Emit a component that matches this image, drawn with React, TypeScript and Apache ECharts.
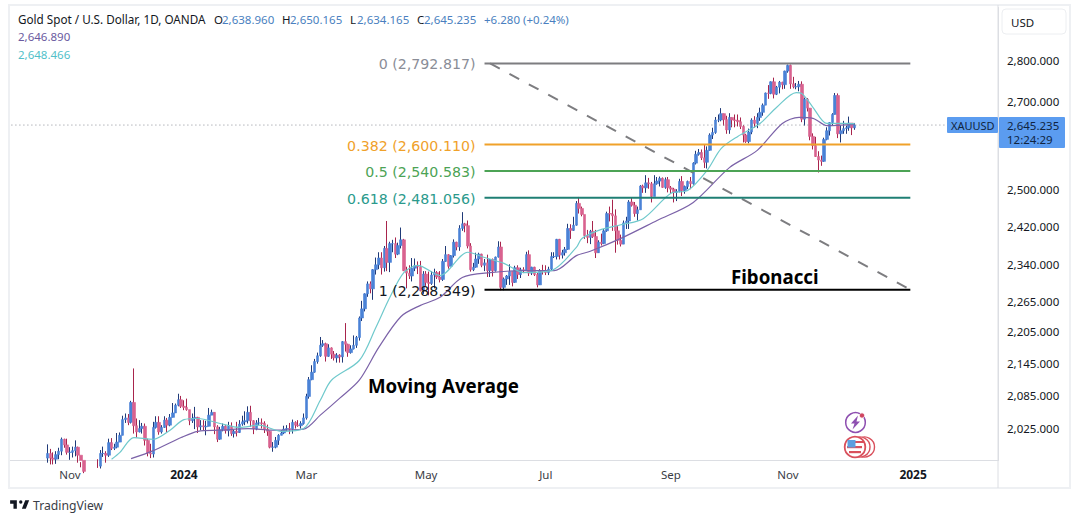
import React, { useEffect, useRef } from "react";
import * as echarts from "echarts";

const firstBarIndex = 13;
const categoryCount = 355;

const opens = [
  1973,1981,1973,1971,1979,1985,2006,1996,1983,1983,
  1986,1992,1978,1969,1950,1958,1939,1946,1963,1959,
  1981,1981,1978,2000,1990,1992,2001,2013,2041,2044,
  2036,2072,2030,2019,2025,2029,2004,1982,1980,2027,
  2036,2019,2027,2040,2031,2045,2053,2067,2077,2065,
  2063,2059,2039,2043,2045,2028,2030,2028,2029,2049,
  2054,2028,2006,2023,2029,2021,2029,2016,2020,2018,
  2033,2037,2039,2054,2039,2024,2035,2035,2034,2024,
  2020,1992,1992,2004,2013,2017,2024,2025,2024,2036,
  2031,2030,2034,2044,2083,2114,2128,2148,2159,2179,
  2182,2158,2174,2162,2155,2160,2157,2186,2181,2165,
  2172,2179,2194,2232,2250,2280,2300,2290,2329,2339,
  2353,2333,2373,2344,2383,2383,2361,2379,2391,2327,
  2322,2316,2332,2337,2335,2286,2320,2303,2301,2318,2323,
  2314,2309,2346,2360,2336,2358,2386,2376,2415,2425,
  2421,2378,2329,2334,2351,2361,2338,2343,2327,2350,
  2327,2355,2376,2293,2310,2316,2325,2303,2333,2319,
  2329,2328,2360,2322,2334,2319,2298,2327,2326,2323,
  2330,2356,2356,2392,2359,2364,2371,2415,2411,2422,
  2469,2458,2445,2400,2396,2409,2398,2364,2386,2383,
  2410,2447,2446,2442,2410,2390,2382,2427,2431,2472,
  2465,2447,2455,2507,2503,2514,2512,2484,2512,2518,
  2524,2504,2521,2503,2500,2493,2495,2517,2497,2506,
  2517,2512,2558,2578,2582,2570,2560,2587,2622,2628,
  2657,2657,2672,2658,2634,2663,2657,2656,2653,2642,
  2622,2607,2629,2657,2649,2663,2675,2692,2721,2720,
  2748,2718,2735,2747,2741,2774,2788,2743,2736,2736,
  2742,2659,2706,2685,2619,2598,2573,2565,2562,2612,
  2632,2651,2670,2715,2625,2632,2637,2639,2650,2638.96,
];
const closes = [
  1981,1973,1971,1979,1985,2006,1996,1983,1983,1986,
  1992,1978,1969,1950,1958,1939,1946,1963,1959,1981,
  1981,1978,2000,1990,1992,2001,2013,2041,2044,2036,
  2072,2030,2019,2025,2029,2004,1982,1980,2027,2036,
  2019,2027,2040,2031,2045,2053,2067,2077,2065,2063,
  2059,2039,2043,2045,2028,2030,2028,2029,2049,2054,
  2028,2006,2023,2029,2021,2029,2016,2020,2018,2033,
  2037,2039,2054,2039,2024,2035,2035,2034,2024,2020,
  1992,1992,2004,2013,2017,2024,2025,2024,2036,2031,
  2030,2034,2044,2083,2114,2128,2148,2159,2179,2182,
  2158,2174,2162,2155,2160,2157,2186,2181,2165,2172,
  2179,2194,2232,2250,2280,2300,2290,2329,2339,2353,
  2333,2373,2344,2383,2383,2361,2379,2391,2327,2322,
  2316,2332,2337,2335,2286,2320,2303,2301,2318,2323,2314,
  2309,2346,2360,2336,2358,2386,2376,2415,2425,2421,
  2378,2329,2334,2351,2361,2338,2343,2327,2350,2327,
  2355,2376,2293,2310,2316,2325,2303,2333,2319,2329,
  2328,2360,2322,2334,2319,2298,2327,2326,2323,2330,
  2356,2356,2392,2359,2364,2371,2415,2411,2422,2469,
  2458,2445,2400,2396,2409,2398,2364,2386,2383,2410,
  2447,2446,2442,2410,2390,2382,2427,2431,2472,2465,
  2447,2455,2507,2503,2514,2512,2484,2512,2518,2524,
  2504,2521,2503,2500,2493,2495,2517,2497,2506,2517,
  2512,2558,2578,2582,2570,2560,2587,2622,2628,2657,
  2657,2672,2658,2634,2663,2657,2656,2653,2642,2622,
  2607,2629,2657,2649,2663,2675,2692,2721,2720,2748,
  2718,2735,2747,2741,2774,2788,2743,2736,2736,2742,
  2659,2706,2685,2619,2598,2573,2565,2562,2612,2632,
  2651,2670,2715,2625,2632,2637,2639,2650,2639,2645.235,
];
const lows = [
  1965,1962,1962,1963,1971,1978,1991,1979,1970,1974,
  1976,1965,1957,1947,1945,1933,1931,1931,1956,1955,
  1975,1965,1975,1987,1987,1990,2001,2013,2035,2031,
  2034,2016,2009,2018,2016,1995,1976,1973,1974,2025,
  2014,2016,2026,2017,2029,2045,2053,2065,2062,2058,
  2057,2031,2035,2024,2017,2022,2022,2013,2029,2049,
  2015,2001,2005,2020,2016,2011,2012,2009,2011,2017,
  2030,2031,2034,2028,2015,2022,2031,2025,2017,2012,
  1990,1984,1990,1996,2013,2015,2020,2015,2016,2025,
  2028,2025,2032,2041,2079,2113,2127,2144,2157,2176,
  2148,2157,2153,2150,2146,2146,2146,2167,2157,2163,
  2171,2174,2188,2226,2245,2274,2281,2268,2319,2330,
  2319,2325,2326,2324,2365,2353,2359,2373,2326,2291,
  2310,2305,2326,2320,2285,2280,2296,2277,2298,2291,2310,
  2303,2306,2345,2331,2336,2354,2369,2368,2410,2407,
  2373,2325,2326,2333,2341,2334,2326,2314,2314,2315,
  2325,2354,2287,2287,2298,2298,2295,2302,2310,2312,
  2322,2326,2316,2318,2316,2293,2298,2319,2318,2318,
  2327,2353,2350,2350,2352,2358,2370,2393,2410,2421,
  2447,2441,2393,2384,2382,2395,2353,2364,2379,2382,
  2408,2430,2410,2364,2381,2377,2382,2414,2414,2462,
  2440,2432,2456,2492,2492,2501,2471,2485,2510,2506,
  2503,2501,2493,2490,2471,2474,2493,2485,2490,2500,
  2500,2510,2555,2575,2565,2547,2546,2586,2613,2625,
  2652,2654,2644,2625,2625,2640,2640,2642,2636,2605,
  2604,2603,2624,2639,2638,2655,2667,2692,2707,2718,
  2708,2716,2720,2730,2731,2770,2731,2732,2730,2725,
  2652,2644,2677,2610,2589,2572,2537,2552,2561,2610,
  2621,2645,2670,2615,2605,2625,2625,2632,2622,2634.165,
];
const highs = [
  1997,1989,1983,1985,1991,2009,2007,2007,1992,1993,
  2004,1993,1966,1964,1965,1960,1948,1966,1971,1987,
  1993,1985,2007,2008,1998,2017,2018,2048,2052,2051,
  2075,2135,2043,2040,2035,2034,2007,1998,2037,2047,
  2047,2031,2047,2044,2051,2071,2070,2088,2084,2076,
  2079,2058,2052,2064,2046,2040,2040,2039,2062,2059,
  2054,2031,2028,2034,2031,2037,2036,2023,2037,2040,
  2048,2056,2065,2066,2040,2040,2044,2043,2038,2032,
  2021,2001,2010,2015,2022,2030,2031,2035,2041,2038,
  2040,2038,2052,2088,2119,2141,2153,2165,2195,2189,
  2184,2181,2175,2168,2164,2162,2187,2222,2182,2179,
  2198,2197,2235,2266,2281,2305,2305,2330,2354,2365,
  2365,2378,2431,2387,2391,2396,2385,2417,2393,2335,
  2338,2353,2352,2346,2347,2326,2326,2325,2326,2331,2326,
  2326,2351,2378,2361,2359,2392,2387,2422,2450,2427,
  2432,2384,2343,2364,2364,2362,2351,2360,2351,2352,
  2356,2388,2387,2313,2318,2340,2325,2337,2338,2333,
  2334,2366,2369,2335,2335,2322,2330,2339,2338,2335,
  2365,2365,2393,2393,2370,2376,2425,2424,2440,2474,
  2483,2462,2427,2412,2412,2431,2412,2390,2404,2414,
  2451,2462,2477,2456,2420,2402,2432,2440,2476,2481,
  2472,2462,2509,2510,2531,2525,2516,2531,2527,2528,
  2526,2526,2527,2507,2503,2500,2523,2529,2508,2519,
  2527,2560,2586,2590,2589,2600,2596,2626,2639,2664,
  2670,2685,2672,2667,2673,2663,2670,2670,2663,2645,
  2625,2637,2661,2666,2673,2686,2696,2722,2740,2749,
  2758,2738,2750,2748,2775,2790,2790,2760,2745,2750,
  2749,2710,2709,2685,2626,2618,2585,2575,2616,2640,
  2652,2673,2721,2720,2645,2655,2644,2665,2650,2650.165,
];

const fastMaIndex = [36,39,44,51,57,62,67,75,82,89,97,105,111,115,125,131,136,141,146,154,164,170,177,184,194,203,205,212,219,227,237,243,250,255,261,269,275,282,284,288,293,299,303];
const fastMaValue = [1971,1983,2009,2006,2022,2041,2043,2034,2027,2031,2020,2025,2076,2113,2150,2214,2273,2323,2338,2317,2365,2354,2342,2323,2327,2375,2394,2413,2423,2436,2491,2497,2542,2591,2619,2649,2687,2722,2720,2687,2649,2649,2648.466];
const slowMaIndex = [43,51,61,67,75,85,94,105,111,118,125,132,140,147,154,162,172,184,195,203,208,219,232,245,258,268,277,283,288,293,303];
const slowMaValue = [1972,1986,2009,2020,2022,2025,2022,2024,2049,2080,2113,2175,2235,2257,2273,2313,2323,2327,2327,2358,2367,2394,2432,2471,2548,2587,2649,2663,2661,2644,2646.89];

const fibLabels = ["0 (2,792.817)", "0.382 (2,600.110)", "0.5 (2,540.583)", "0.618 (2,481.056)", "1 (2,288.349)"];
const fibLevels = [2792.817, 2600.11, 2540.583, 2481.056, 2288.349];
const fibColors = ["#7d7d80", "#f0a12a", "#4ca355", "#1f7f74", "#000000"];
const fibLabelColors = ["#8a8d97", "#f0a12a", "#4ca355", "#2b9a8c", "#131722"];
const fibStartIndex = 170;
const fibEndIndex = 323;
const trendStartIndex = 172;

const priceTicks = [2800, 2700, 2500, 2420, 2340, 2265, 2205, 2145, 2085, 2025];
const timeTicks: Record<number, string> = { 21: "Nov", 62: "2024", 106: "Mar", 149: "May", 192: "Jul", 237: "Sep", 279: "Nov", 324: "2025" };
const boldTimeTicks = ["2024", "2025"];
const lastPrice = 2645.235;

const font = "Noto Sans";
const logoPath = "M14 6H2v6h6v9h6V6Zm16 15h-7l6-15h7l-6 15Zm-9-9a3 3 0 1 0 0-6 3 3 0 0 0 0 6Z";

const UP = "#4a82d6", DOWN = "#d9628f", UP_WICK = "#203a78", DOWN_WICK = "#a8244c";
const pad = Array(firstBarIndex).fill("-");
const wickData = [...pad, ...opens.map((o, i) => [o, closes[i], lows[i], highs[i]])];
const bodyData = [...pad, ...opens.map((o, i) => [o, closes[i], Math.min(o, closes[i]), Math.max(o, closes[i])])];
const categories = Array.from({ length: categoryCount }, (_, i) => String(i));

const txt = (x: number, y: number, text: string, fill: string, size = 12, extra: any = {}) => ({
  type: "text", x, y, z: 50, silent: true,
  style: { text, fill, font: `${extra.weight || "normal"} ${size}px "${extra.family || font}"`, textAlign: extra.align || "left", textVerticalAlign: "middle" },
});

export default function App() {
  const ref = useRef<HTMLDivElement>(null);
  useEffect(() => {
    if (!ref.current) return;
    echarts.graphic.registerShape("tvlogo", echarts.graphic.extendPath(logoPath, {}));
    const chart = echarts.init(ref.current, null, { renderer: "svg" });
    const fibSeries = fibLevels.map((lv, k) => ({
      type: "line", silent: true, z: 6, symbol: "circle", symbolSize: 0, showSymbol: true,
      lineStyle: { color: fibColors[k], width: 2 },
      data: [
        { value: [fibStartIndex, lv], label: { show: true, position: "left", distance: 9, offset: [0, 1], formatter: fibLabels[k], color: fibLabelColors[k], fontSize: 14.2, fontFamily: "DejaVu Sans" } },
        { value: [fibEndIndex, lv], label: { show: false } },
      ],
    }));
    chart.setOption({
      animation: false,
      backgroundColor: "#ffffff",
      grid: { left: 10, right: 82, top: 7.5, bottom: 62.5, containLabel: false },
      xAxis: {
        type: "category", data: categories, boundaryGap: true,
        axisLine: { lineStyle: { color: "#dcdee3" } }, axisTick: { show: false }, splitLine: { show: false },
        axisLabel: {
          margin: 8, fontSize: 11.5, fontFamily: font, color: "#3a3d46", hideOverlap: false,
          interval: (i: number) => timeTicks[i] !== undefined,
          formatter: (v: string) => {
            const t = timeTicks[Number(v)] || "";
            return boldTimeTicks.includes(t) ? `{b|${t}}` : t;
          },
          rich: { b: { fontWeight: "bold", fontSize: 12, fontFamily: font, color: "#131722" } },
        },
      },
      yAxis: {
        type: "log", logBase: 10, position: "right", min: 1968.8, max: 2933.7, scale: true,
        axisLine: { show: true, lineStyle: { color: "#dcdee3" } }, axisTick: { show: false }, splitLine: { show: false }, minorTick: { show: false }, minorSplitLine: { show: false },
        axisLabel: {
          customValues: priceTicks, margin: 9, fontSize: 11.5, fontFamily: font, color: "#131722",
          formatter: (v: number) => Number(v).toLocaleString("en-US", { minimumFractionDigits: 3, maximumFractionDigits: 3 }),
        },
      },
      series: [
        {
          type: "candlestick", silent: true, z: 2, barWidth: 1, data: wickData,
          itemStyle: { color: UP_WICK, color0: DOWN_WICK, borderColor: UP_WICK, borderColor0: DOWN_WICK, borderWidth: 1 },
        },
        {
          type: "candlestick", silent: true, z: 3, barWidth: 3, data: bodyData,
          itemStyle: { color: UP, color0: DOWN, borderColor: UP, borderColor0: DOWN, borderWidth: 0.6 },
        },
        {
          type: "line", silent: true, z: 5, symbol: "none", smooth: 0.3,
          lineStyle: { color: "#7b62a8", width: 1.2 },
          data: slowMaIndex.map((x, i) => [x, slowMaValue[i]]),
        },
        {
          type: "line", silent: true, z: 5, symbol: "none", smooth: 0.3,
          lineStyle: { color: "#6fc9cc", width: 1.2 },
          data: fastMaIndex.map((x, i) => [x, fastMaValue[i]]),
        },
        {
          type: "line", silent: true, z: 4, symbol: "none",
          lineStyle: { color: "#8a8d97", width: 1, type: [1, 3] },
          data: [[0, lastPrice], [categoryCount - 1, lastPrice]],
        },
        {
          type: "line", silent: true, z: 6, symbol: "none",
          lineStyle: { color: "#7d7d80", width: 2, type: [11, 11] },
          data: [[trendStartIndex, fibLevels[0]], [fibEndIndex, fibLevels[4]]],
        },
        ...fibSeries,
      ],
      graphic: [
        // frame
        { type: "rect", z: 40, silent: true, shape: { x: 9, y: 5, width: 1061, height: 483 }, style: { fill: "none", stroke: "#eef0f3", lineWidth: 2 } },
        { type: "line", z: 40, silent: true, shape: { x1: 998, y1: 5, x2: 998, y2: 488 }, style: { stroke: "#dcdee3", lineWidth: 1 } },
        // USD box
        { type: "rect", z: 41, silent: true, shape: { x: 1002, y: 9, width: 64, height: 25, r: 4 }, style: { fill: "#fff", stroke: "#eceef1", lineWidth: 1 } },
        txt(1011, 22, "USD", "#131722", 11.5),
        // header
        txt(18, 19, "Gold Spot / U.S. Dollar, 1D, OANDA", "#131722", 11.7),
        txt(214, 19, "O", "#131722", 11.5), txt(222, 19, "2,638.960", "#4a7fc0", 11.5),
        txt(282, 19, "H", "#131722", 11.5), txt(290, 19, "2,650.165", "#4a7fc0", 11.5),
        txt(350, 19, "L", "#131722", 11.5), txt(357, 19, "2,634.165", "#4a7fc0", 11.5),
        txt(417, 19, "C", "#131722", 11.5), txt(424, 19, "2,645.235", "#4a7fc0", 11.5),
        txt(484, 19, "+6.280 (+0.24%)", "#4a7fc0", 11.5),
        txt(18, 36, "2,646.890", "#6a5aa0", 11.5),
        txt(18, 54, "2,648.466", "#52bfc9", 11.5),
        // annotations
        txt(368, 385, "Moving Average", "#000000", 18.7, { weight: "bold" }),
        txt(731, 276, "Fibonacci", "#000000", 18.7, { weight: "bold" }),
        // price tags
        { type: "rect", z: 42, silent: true, shape: { x: 947, y: 117, width: 51, height: 16, r: 1 }, style: { fill: "#5b9cf0" } },
        txt(951, 125.5, "XAUUSD", "#10243f", 11),
        { type: "rect", z: 42, silent: true, shape: { x: 999, y: 117, width: 66, height: 31, r: 1 }, style: { fill: "#5b9cf0" } },
        txt(1007, 125.5, "2,645.235", "#10243f", 11.5),
        txt(1007, 139, "12:24:29", "#10243f", 11.5),
        // lightning icon
        { type: "circle", z: 42, silent: true, shape: { cx: 855.5, cy: 422.5, r: 9.8 }, style: { fill: "#fff", stroke: "#8e4fb0", lineWidth: 1.5 } },
        { type: "polygon", z: 43, silent: true, shape: { points: [[858, 415.5], [851, 423.5], [854.5, 423.5], [852.5, 429.5], [860, 421.5], [856.5, 421.5]] }, style: { fill: "#8e4fb0" } },
        { type: "circle", z: 43, silent: true, shape: { cx: 862, cy: 415.5, r: 2.6 }, style: { fill: "#cf4560", stroke: "#fff", lineWidth: 0.8 } },
        // coin stack icon
        { type: "circle", z: 42, silent: true, shape: { cx: 864.5, cy: 447, r: 10 }, style: { fill: "#fff", stroke: "#d9505c", lineWidth: 1.4 } },
        { type: "circle", z: 42, silent: true, shape: { cx: 860, cy: 447, r: 10 }, style: { fill: "#fff", stroke: "#d9505c", lineWidth: 1.4 } },
        { type: "circle", z: 42, silent: true, shape: { cx: 855, cy: 447, r: 10.3 }, style: { fill: "#fff", stroke: "#d9505c", lineWidth: 1.8 } },
        { type: "rect", z: 43, silent: true, shape: { x: 848, y: 441, width: 16, height: 2 }, style: { fill: "#d9505c" } },
        { type: "rect", z: 43, silent: true, shape: { x: 847, y: 446, width: 15, height: 2.2 }, style: { fill: "#d9505c" } },
        { type: "rect", z: 43, silent: true, shape: { x: 849, y: 451, width: 12, height: 2.2 }, style: { fill: "#d9505c" } },
        { type: "rect", z: 44, silent: true, shape: { x: 847.5, y: 440, width: 8, height: 7.5 }, style: { fill: "#5c9fe0" } },
        // footer logo
        { type: "tvlogo", z: 45, silent: true, x: 9, y: 497, scaleX: 0.56, scaleY: 0.56, style: { fill: "#131722" } },
        txt(33, 505.5, "TradingView", "#3a3d46", 12.2),
      ],
    });
    return () => chart.dispose();
  }, []);
  return <div ref={ref} style={{ position: "absolute", left: 0, top: 0, width: 1080, height: 523 }} />;
}
